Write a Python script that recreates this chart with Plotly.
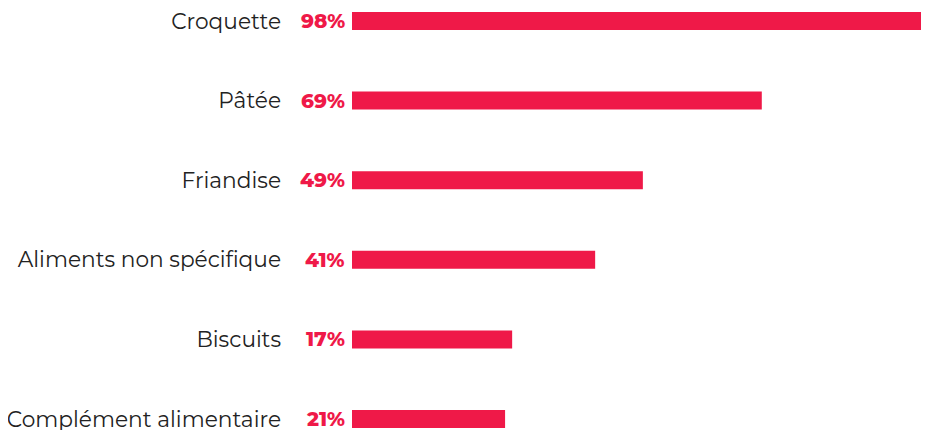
import plotly.graph_objects as go

categories = ["Croquette", "Pâtée", "Friandise", "Aliments non spécifique", "Biscuits", "Complément alimentaire"]
bar_values = [98, 69.6, 49.4, 41.3, 27.2, 26.0]
label_texts = ["98%", "69%", "49%", "41%", "17%", "21%"]

RED = "#ef1948"
FONT = "Montserrat, DejaVu Sans, sans-serif"

fig = go.Figure()
fig.add_trace(go.Bar(
    x=bar_values, y=categories, orientation="h",
    marker=dict(color=RED, line=dict(width=0)),
    width=0.226, hoverinfo="skip",
))

for c, t in zip(categories, label_texts):
    fig.add_annotation(x=0, y=c, xref="x", yref="y", text=t,
                       showarrow=False, xanchor="right", xshift=-5,
                       font=dict(family=FONT, size=20, color=RED, weight=800))

fig.update_layout(
    width=921, height=422,
    margin=dict(l=344, r=0, t=0, b=0, autoexpand=False),
    paper_bgcolor="white", plot_bgcolor="white",
    showlegend=False,
    xaxis=dict(range=[0, 98], visible=False, fixedrange=True, automargin=False),
    yaxis=dict(type="category", categoryorder="array", categoryarray=categories,
               range=[5.1382, -0.1633], showgrid=False, zeroline=False,
               showline=False, ticks="", ticklabelstandoff=70, automargin=False,
               tickfont=dict(family=FONT, size=21.7, color="#222222")),
)

fig.write_html("out.html")
